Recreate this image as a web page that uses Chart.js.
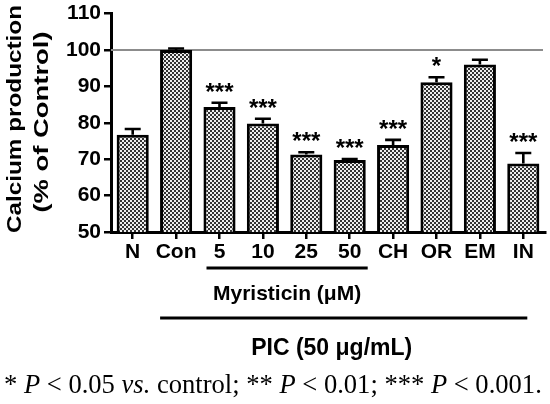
<!DOCTYPE html>
<html>
<head>
<meta charset="utf-8">
<script src="https://cdn.jsdelivr.net/npm/chart.js@4"></script>
<style>
  html, body { margin: 0; padding: 0; background: #fff; }
  #wrap { width: 550px; height: 404px; position: relative; }
</style>
</head>
<body>
<div id="wrap"><canvas id="calcChart"></canvas></div>
<script>
// data
const categories = ["N", "Con", "5", "10", "25", "50", "CH", "OR", "EM", "IN"];
const means = [76.7, 100, 84.3, 79.8, 71.3, 69.8, 73.9, 91.1, 96.0, 68.8];
const sem = [1.6, 0.4, 1.2, 1.3, 0.6, 0.2, 1.4, 1.4, 1.3, 2.9];
const stars = ["", "", "***", "***", "***", "***", "***", "*", "", "***"];
const yTicks = [50, 60, 70, 80, 90, 100, 110];
const yTitle = ["Calcium production", "(% of Control)"];
const groupLabels = ["Myristicin (\u03bcM)", "PIC (50 \u03bcg/mL)"];
const groupFrom = [2, 1];
const groupTo = [5, 9];
const refValue = 100;
const footnote = [
  ["* ", false], ["P", true], [" < 0.05 ", false], ["vs.", true],
  [" control; ** ", false], ["P", true], [" < 0.01; *** ", false],
  ["P", true], [" < 0.001.", false]
];

const SANS = '"Liberation Sans", Arial, sans-serif';
const SERIF = '"Liberation Serif", "Times New Roman", serif';

const ctx = document.getElementById("calcChart").getContext("2d");

// checkered grey fill like the original
const pc = document.createElement("canvas");
pc.width = 4;
pc.height = 4;
const pctx = pc.getContext("2d");
pctx.fillStyle = "#eeeeee";
pctx.fillRect(0, 0, 4, 4);
pctx.fillStyle = "#333333";
pctx.fillRect(0, 0, 2, 2);
pctx.fillRect(2, 2, 2, 2);
const checker = ctx.createPattern(pc, "repeat");

// reference line at 100 %
const refLine = {
  id: "refLine",
  beforeDatasetsDraw(chart) {
    const { ctx, chartArea, scales } = chart;
    const y = scales.y.getPixelForValue(refValue);
    ctx.save();
    ctx.strokeStyle = "#8c8c8c";
    ctx.lineWidth = 2;
    ctx.beginPath();
    ctx.moveTo(chartArea.left, y);
    ctx.lineTo(chartArea.right - 2, y);
    ctx.stroke();
    ctx.restore();
  },
};

// upper error bars + significance stars
const errorBars = {
  id: "errorBars",
  afterDatasetsDraw(chart) {
    const { ctx, scales } = chart;
    const meta = chart.getDatasetMeta(0);
    ctx.save();
    ctx.strokeStyle = "#000";
    ctx.fillStyle = "#000";
    ctx.lineWidth = 2.6;
    meta.data.forEach((bar, i) => {
      const x = bar.x;
      const yBar = scales.y.getPixelForValue(means[i]);
      const yTop = scales.y.getPixelForValue(means[i] + sem[i]);
      ctx.beginPath();
      ctx.moveTo(x, yBar);
      ctx.lineTo(x, yTop);
      ctx.moveTo(x - 8, yTop);
      ctx.lineTo(x + 8, yTop);
      ctx.stroke();
      if (stars[i]) {
        ctx.font = "bold 24px " + SANS;
        ctx.textAlign = "center";
        ctx.textBaseline = "alphabetic";
        ctx.fillText(stars[i], x, yTop - 3);
      }
    });
    ctx.restore();
  },
};

// y title, group brackets and footnote
const extras = {
  id: "extras",
  afterDraw(chart) {
    const { ctx, scales } = chart;
    ctx.save();
    ctx.fillStyle = "#000";
    ctx.strokeStyle = "#000";

    // y axis title, two rotated lines
    const titlePos = [
      { x: 21, y: 119, len: 228 },
      { x: 48, y: 122, len: 181 },
    ];
    ctx.font = "bold 20px " + SANS;
    yTitle.forEach((t, i) => {
      const p = titlePos[i];
      const w = ctx.measureText(t).width;
      ctx.save();
      ctx.translate(p.x, p.y);
      ctx.rotate(-Math.PI / 2);
      ctx.scale(p.len / w, 1);
      ctx.textAlign = "center";
      ctx.textBaseline = "alphabetic";
      ctx.fillText(t, 0, 0);
      ctx.restore();
    });

    // group lines under the x labels
    const gStyle = [
      { lineY: 268, padL: 13, padR: 18, textY: 300, dx: 0, size: 21 },
      { lineY: 318, padL: 16, padR: 4, textY: 355, dx: -12, size: 23 },
    ];
    groupLabels.forEach((label, i) => {
      const s = gStyle[i];
      const x0 = scales.x.getPixelForValue(groupFrom[i]) - s.padL;
      const x1 = scales.x.getPixelForValue(groupTo[i]) + s.padR;
      ctx.lineWidth = 3;
      ctx.beginPath();
      ctx.moveTo(x0, s.lineY);
      ctx.lineTo(x1, s.lineY);
      ctx.stroke();
      ctx.font = "bold " + s.size + "px " + SANS;
      ctx.textAlign = "center";
      ctx.textBaseline = "alphabetic";
      ctx.fillText(label, (x0 + x1) / 2 + s.dx, s.textY);
    });

    // footnote in serif with italic P / vs., sized to span the width
    const setFont = (ital, size) => {
      ctx.font = (ital ? "italic " : "") + size + "px " + SERIF;
    };
    let total = 0;
    footnote.forEach(([txt, ital]) => {
      setFont(ital, 25);
      total += ctx.measureText(txt).width;
    });
    const fsize = 25 * 538 / total;
    let fx = 4;
    ctx.textAlign = "left";
    ctx.textBaseline = "alphabetic";
    footnote.forEach(([txt, ital]) => {
      setFont(ital, fsize);
      ctx.fillText(txt, fx, 393);
      fx += ctx.measureText(txt).width;
    });
    ctx.restore();
  },
};

new Chart(ctx, {
  type: "bar",
  data: {
    labels: categories,
    datasets: [
      {
        data: means,
        backgroundColor: checker,
        borderColor: "#000",
        borderWidth: 3,
        borderSkipped: false,
        barPercentage: 0.74,
        categoryPercentage: 1,
      },
    ],
  },
  options: {
    responsive: true,
    maintainAspectRatio: false,
    animation: false,
    layout: { padding: { top: 11.5, right: 5, bottom: 0, left: 0 } },
    plugins: { legend: { display: false }, tooltip: { enabled: false } },
    scales: {
      x: {
        afterFit: (scale) => { scale.height = 172; },
        grid: {
          display: true,
          drawOnChartArea: false,
          drawTicks: true,
          offset: false,
          tickLength: 7,
          color: "#000",
          lineWidth: 2.5,
        },
        border: { display: true, color: "#000", width: 3 },
        ticks: {
          color: "#000",
          padding: 1,
          font: { family: SANS, size: 21, weight: "bold" },
          maxRotation: 0,
          autoSkip: false,
        },
      },
      y: {
        min: 50,
        max: 110,
        afterFit: (scale) => { scale.width = 111; },
        afterBuildTicks: (scale) => { scale.ticks = yTicks.map((v) => ({ value: v })); },
        grid: {
          display: true,
          drawOnChartArea: false,
          drawTicks: true,
          tickLength: 7,
          color: "#000",
          lineWidth: 2.5,
        },
        border: { display: true, color: "#000", width: 3 },
        ticks: {
          color: "#000",
          padding: 3,
          font: { family: SANS, size: 21, weight: "bold", lineHeight: 1 },
        },
      },
    },
  },
  plugins: [refLine, errorBars, extras],
});
</script>
</body>
</html>
